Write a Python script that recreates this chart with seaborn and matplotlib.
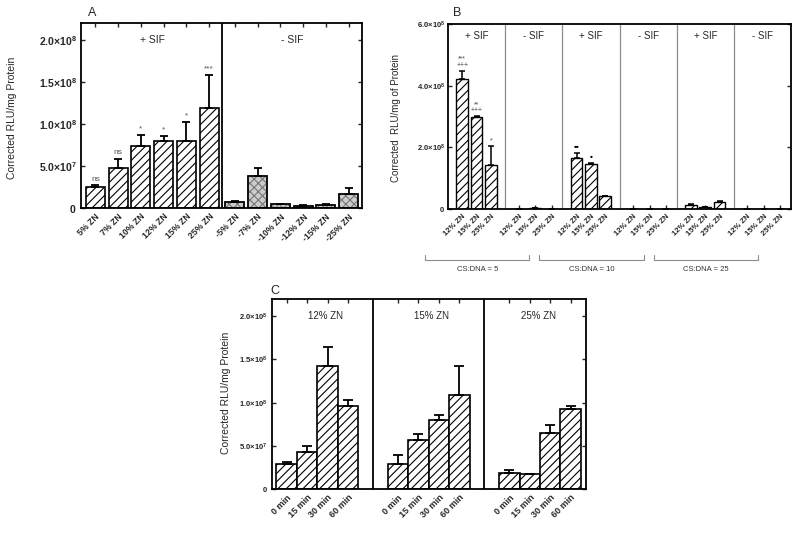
import numpy as np
import pandas as pd
import matplotlib
matplotlib.use('Agg')
import matplotlib.pyplot as plt
import matplotlib.transforms as mtransforms
from matplotlib.lines import Line2D
from matplotlib.patches import Rectangle
import seaborn as sns

sns.set_style('ticks')
plt.rcParams['font.family'] = ['Liberation Sans', 'DejaVu Sans']
plt.rcParams['mathtext.fontset'] = 'custom'
plt.rcParams['mathtext.rm'] = 'Liberation Sans'
plt.rcParams['mathtext.bf'] = 'Liberation Sans:bold'
plt.rcParams['hatch.linewidth'] = 0.8

# ---------------- data ----------------
# Panel A
a_plus_labels = ['5% ZN', '7% ZN', '10% ZN', '12% ZN', '15% ZN', '25% ZN']
a_plus_mean = [2.5e7, 4.8e7, 7.4e7, 7.95e7, 8.0e7, 1.19e8]
a_plus_err = [2.0e6, 1.0e7, 1.25e7, 6.0e6, 2.2e7, 3.9e7]
a_plus_marks = ['ns', 'ns', '*', '*', '*', '***']
a_minus_labels = ['-5% ZN', '-7% ZN', '-10% ZN', '-12% ZN', '-15% ZN', '-25% ZN']
a_minus_mean = [7.0e6, 3.75e7, 4.5e6, 2.5e6, 3.5e6, 1.67e7]
a_minus_err = [1.0e6, 1.0e7, 5.0e5, 1.0e6, 7.0e5, 7.0e6]
a_groups = ['+ SIF', '- SIF']

# Panel B
b_formulations = ['12% ZN', '15% ZN', '25% ZN']
b_groups = ['+ SIF', '- SIF', '+ SIF', '- SIF', '+ SIF', '- SIF']
b_ratios = ['CS:DNA = 5', 'CS:DNA = 10', 'CS:DNA = 25']
b_mean = [4.23e8, 2.98e8, 1.42e8,
          0.0, 2.0e6, 0.0,
          1.66e8, 1.46e8, 4.3e7,
          0.0, 0.0, 0.0,
          1.3e7, 6.0e6, 2.2e7,
          0.0, 0.0, 0.0]
b_err = [2.5e7, 2.0e6, 6.1e7,
         0.0, 1.0e6, 0.0,
         1.6e7, 3.0e6, 0.0,
         0.0, 0.0, 0.0,
         2.0e6, 2.0e6, 3.0e6,
         0.0, 0.0, 0.0]
b_marks = ['***\n+++', '**\n+++', '*', '', '', '',
           '••', '•', '', '', '', '',
           '', '', '', '', '', '']

# Panel C
c_times = ['0 min', '15 min', '30 min', '60 min']
c_groups = ['12% ZN', '15% ZN', '25% ZN']
c_mean_12 = [2.92e7, 4.23e7, 1.43e8, 9.6e7]
c_err_12 = [1.8e6, 8.0e6, 2.2e7, 7.0e6]
c_mean_15 = [2.85e7, 5.7e7, 8.0e7, 1.09e8]
c_err_15 = [1.05e7, 6.5e6, 6.0e6, 3.4e7]
c_mean_25 = [1.9e7, 1.7e7, 6.5e7, 9.3e7]
c_err_25 = [3.5e6, 5.0e5, 9.5e6, 3.5e6]

# ---------------- layout ----------------
W, H = 800, 533
fig = plt.figure(figsize=(W / 100, H / 100), dpi=100)


def box(l, t, r, b):
    return [l / W, 1 - b / H, (r - l) / W, (b - t) / H]


axA = fig.add_axes(box(81, 23, 362, 208))
axB = fig.add_axes(box(448, 24, 791, 209))
axC = fig.add_axes(box(272, 299, 586, 489))

ylab = [r'$\mathbf{0}$', r'$\mathbf{5.0{\times}10^{7}}$', r'$\mathbf{1.0{\times}10^{8}}$',
        r'$\mathbf{1.5{\times}10^{8}}$', r'$\mathbf{2.0{\times}10^{8}}$']


def style_axes(ax, lw=1.3):
    for s in ax.spines.values():
        s.set_linewidth(lw)
        s.set_color('black')
        s.set_visible(True)


def draw_err(ax, x, mean, err, cap, lw=1.3):
    ax.errorbar(x, mean, yerr=[np.zeros(len(err)), err], fmt='none', ecolor='black',
                elinewidth=lw, capsize=cap, capthick=lw, zorder=3)


# ---------------- panel A ----------------
a_step = 6.13
posA = [i for i in range(len(a_plus_labels))] + [a_step + i for i in range(len(a_minus_labels))]
dfA = pd.DataFrame({'pos': posA,
                    'value': a_plus_mean + a_minus_mean,
                    'err': a_plus_err + a_minus_err,
                    'label': a_plus_labels + a_minus_labels})
sns.barplot(data=dfA, x='pos', y='value', native_scale=True, width=0.83, color='white',
            saturation=1, edgecolor='black', linewidth=1.2, errorbar=None, ax=axA)
divA = (len(a_plus_labels) - 1 + a_step) / 2
for p in list(axA.patches):
    cx = p.get_x() + p.get_width() / 2
    if cx < divA:
        p.set_hatch('////')
    else:
        p.set_facecolor('#cccccc')
        p.set_edgecolor('#777777')
        p.set_hatch('xxxx')
        axA.add_patch(Rectangle((p.get_x(), 0), p.get_width(), p.get_height(), fill=False,
                                edgecolor='black', linewidth=1.2, zorder=2.5))
draw_err(axA, dfA['pos'], dfA['value'], dfA['err'], cap=3.2)
for i, m in enumerate(a_plus_marks):
    axA.annotate(m, (posA[i], a_plus_mean[i] + a_plus_err[i]), xytext=(0, 2),
                 textcoords='offset points', ha='center', va='bottom', fontsize=6, color='#555555')
axA.axvline(divA, color='black', lw=1.3)
axA.set_xlim(-0.63, posA[-1] + 0.59)
axA.set_ylim(0, 2.2e8)
axA.set_yticks([0, 5e7, 1e8, 1.5e8, 2e8])
axA.set_yticklabels(ylab, fontsize=7.5)
axA.set_xticks(posA)
axA.set_xticklabels(dfA['label'], rotation=45, ha='right', rotation_mode='anchor',
                    fontsize=6.3, fontweight='bold')
axA.tick_params(axis='x', bottom=False, top=True, direction='in', length=3, width=1, pad=3)
axA.tick_params(axis='y', left=True, right=True, direction='in', length=3, width=1, pad=3)
axA.text(2.5, 2.0e8, a_groups[0], ha='center', va='center', fontsize=7.5)
axA.text((divA + posA[-1] + 0.59) / 2, 2.0e8, a_groups[1], ha='center', va='center', fontsize=7.5)
axA.set_xlabel('')
axA.set_ylabel('')
style_axes(axA)

# ---------------- panel B ----------------
plus_off = [1.0, 2.0, 3.0]
minus_off = [0.95, 2.1, 3.25]
posB = []
for g, name in enumerate(b_groups):
    offs = plus_off if name.startswith('+') else minus_off
    posB += [4 * g + o for o in offs]
dfB = pd.DataFrame({'pos': posB, 'value': b_mean, 'err': b_err,
                    'label': b_formulations * len(b_groups)})
sns.barplot(data=dfB, x='pos', y='value', native_scale=True, width=0.82, color='white',
            saturation=1, edgecolor='black', linewidth=1.0, errorbar=None, ax=axB)
for p in axB.patches:
    p.set_hatch('////')
draw_err(axB, dfB['pos'], dfB['value'], dfB['err'], cap=2.2, lw=1.1)
for i, m in enumerate(b_marks):
    if not m:
        continue
    bold = '•' in m
    axB.annotate(m, (posB[i], b_mean[i] + b_err[i]), xytext=(0, 1.5),
                 textcoords='offset points', ha='center', va='bottom',
                 fontsize=6 if bold else 5, color='black' if bold else '#444444',
                 fontweight='bold' if bold else 'normal', linespacing=0.85)
for g in range(1, len(b_groups)):
    axB.axvline(4 * g, color='#8c8c8c', lw=0.9)
for g, name in enumerate(b_groups):
    axB.text(4 * g + 2, 5.6e8, name, ha='center', va='center', fontsize=7)
axB.set_xlim(0, 4 * len(b_groups))
axB.set_ylim(0, 6e8)
axB.set_yticks([0, 2e8, 4e8, 6e8])
axB.set_yticklabels([r'$\mathbf{0}$', r'$\mathbf{2.0{\times}10^{8}}$',
                     r'$\mathbf{4.0{\times}10^{8}}$', r'$\mathbf{6.0{\times}10^{8}}$'], fontsize=5.5)
axB.set_xticks(posB)
axB.set_xticklabels(dfB['label'], rotation=45, ha='right', rotation_mode='anchor',
                    fontsize=5.5, fontweight='bold')
axB.tick_params(axis='x', bottom=True, top=False, direction='in', length=3, width=1, pad=3)
axB.tick_params(axis='y', left=True, right=True, direction='in', length=3, width=1, pad=2)
axB.set_xlabel('')
axB.set_ylabel('')
style_axes(axB, lw=1.3)
trB = mtransforms.blended_transform_factory(axB.transData, axB.transAxes)
for k, lab in enumerate(b_ratios):
    x0, x1 = 8 * k - 1.6, 8 * k + 5.7
    axB.add_line(Line2D([x0, x0, x1, x1], [-0.25, -0.275, -0.275, -0.25], transform=trB,
                        color='#8c8c8c', lw=0.8, clip_on=False))
    axB.text((x0 + x1) / 2, -0.325, lab, transform=trB, ha='center', va='center',
             fontsize=5.5, color='#333333')

# ---------------- panel C ----------------
c_start, c_step = 0.72, 5.45
c_means = [c_mean_12, c_mean_15, c_mean_25]
c_errs = [c_err_12, c_err_15, c_err_25]
rows = []
for g, name in enumerate(c_groups):
    for i, t in enumerate(c_times):
        rows.append({'pos': c_start + g * c_step + i, 'value': c_means[g][i],
                     'err': c_errs[g][i], 'label': t, 'group': name})
dfC = pd.DataFrame(rows)
sns.barplot(data=dfC, x='pos', y='value', native_scale=True, width=1.0, color='white',
            saturation=1, edgecolor='black', linewidth=1.2, errorbar=None, ax=axC)
for p in axC.patches:
    p.set_hatch('////')
draw_err(axC, dfC['pos'], dfC['value'], dfC['err'], cap=3.3)
n = len(c_times)
divsC = [c_start + g * c_step + (n - 1) + (c_step - (n - 1)) / 2 for g in range(len(c_groups) - 1)]
for d in divsC:
    axC.axvline(d, color='black', lw=1.3)
xlimC = (0, c_start + (len(c_groups) - 1) * c_step + n - 1 + 0.75)
edges = [xlimC[0]] + divsC + [xlimC[1]]
for g, name in enumerate(c_groups):
    axC.text((edges[g] + edges[g + 1]) / 2 + 0.15, 2.0e8, name, ha='center', va='center', fontsize=7)
axC.set_xlim(*xlimC)
axC.set_ylim(0, 2.2e8)
axC.set_yticks([0, 5e7, 1e8, 1.5e8, 2e8])
axC.set_yticklabels(ylab, fontsize=5.5)
axC.set_xticks(dfC['pos'])
axC.set_xticklabels(dfC['label'], rotation=45, ha='right', rotation_mode='anchor',
                    fontsize=6.5, fontweight='bold')
axC.tick_params(axis='x', bottom=False, top=True, direction='in', length=3, width=1, pad=3)
axC.tick_params(axis='y', left=True, right=True, direction='in', length=3, width=1, pad=3)
axC.set_xlabel('')
axC.set_ylabel('')
style_axes(axC)

# ---------------- figure text ----------------
fig.text(92 / W, 1 - 13 / H, 'A', fontsize=9, ha='center', va='center')
fig.text(457 / W, 1 - 13 / H, 'B', fontsize=9, ha='center', va='center')
fig.text(275 / W, 1 - 291 / H, 'C', fontsize=9, ha='center', va='center')
fig.text(12 / W, 1 - 118 / H, 'Corrected RLU/mg Protein', rotation=90, fontsize=7.5,
         ha='center', va='center')
fig.text(396 / W, 1 - 118 / H, 'Corrected  RLU/mg of Protein', rotation=90, fontsize=7,
         ha='center', va='center')
fig.text(226 / W, 1 - 393 / H, 'Corrected RLU/mg Protein', rotation=90, fontsize=7.5,
         ha='center', va='center')

fig.savefig('out.png', dpi=100)
